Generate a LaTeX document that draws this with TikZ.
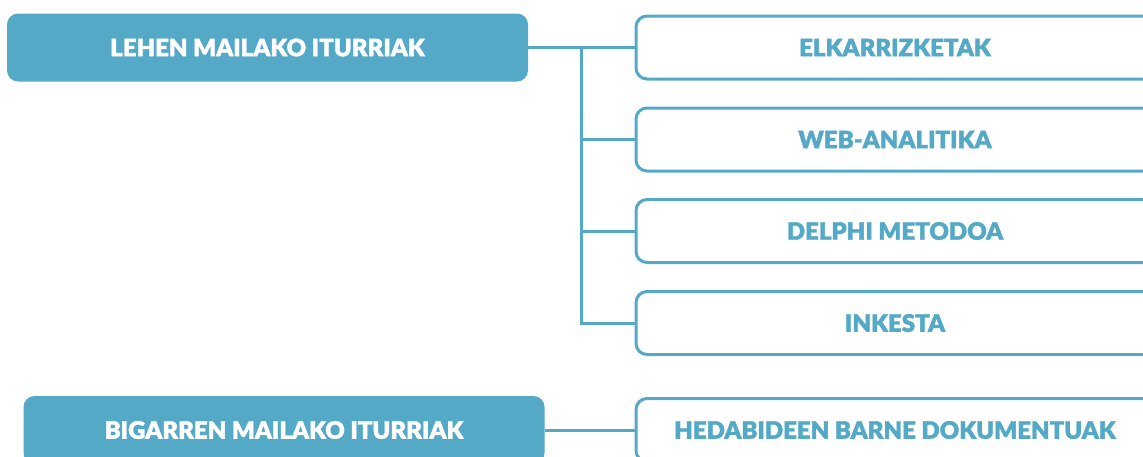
\documentclass[tikz,border=0pt]{standalone}
\usepackage{fontspec}
\setmainfont{Lato}[BoldFont={Lato Black}, BoldFeatures={FakeBold=1.6}]
\usepackage{tikz}
\usepackage{xcolor}

\definecolor{sourceblue}{HTML}{54A9C6}

\begin{document}
\begin{tikzpicture}[x=1pt, y=-1pt,
    levelbox/.style={fill=sourceblue, rounded corners=11pt, minimum width=521pt,
        minimum height=68pt, text=white, font=\fontsize{24}{26}\selectfont\bfseries},
    kindbox/.style={draw=sourceblue, line width=3pt, fill=white, rounded corners=11pt,
        minimum width=518pt, minimum height=63pt, text=sourceblue,
        font=\fontsize{24}{26}\selectfont\bfseries},
    link/.style={draw=sourceblue, line width=3pt}]
    % Frame of the page
    \useasboundingbox (0,0) rectangle (1143,456);
    \clip (0,0) rectangle (1143,456);

    % Left boxes, one for each level of sources
    \node[levelbox] (lehen) at (267.5,47.5) {LEHEN MAILAKO ITURRIAK};
    \node[levelbox] (bigarren) at (284,430) {BIGARREN MAILAKO ITURRIAK};

    % Right boxes
    \node[kindbox] (elkar) at (895,47.5) {ELKARRIZKETAK};
    \node[kindbox] (web) at (895,139.5) {WEB-ANALITIKA};
    \node[kindbox] (delphi) at (895,231) {DELPHI METODOA};
    \node[kindbox] (inkesta) at (895,323) {INKESTA};
    \node[kindbox] (hedabide) at (895,430) {HEDABIDEEN BARNE DOKUMENTUAK};

    % Tree from the first level
    \coordinate (split) at (581,47.5);
    \draw[link] (lehen.east) -- (elkar.west);
    \draw[link] (split) |- (inkesta.west);
    \draw[link] (split |- web.west) -- (web.west);
    \draw[link] (split |- delphi.west) -- (delphi.west);

    % Second level
    \draw[link] (bigarren.east) -- (hedabide.west);
\end{tikzpicture}
\end{document}
